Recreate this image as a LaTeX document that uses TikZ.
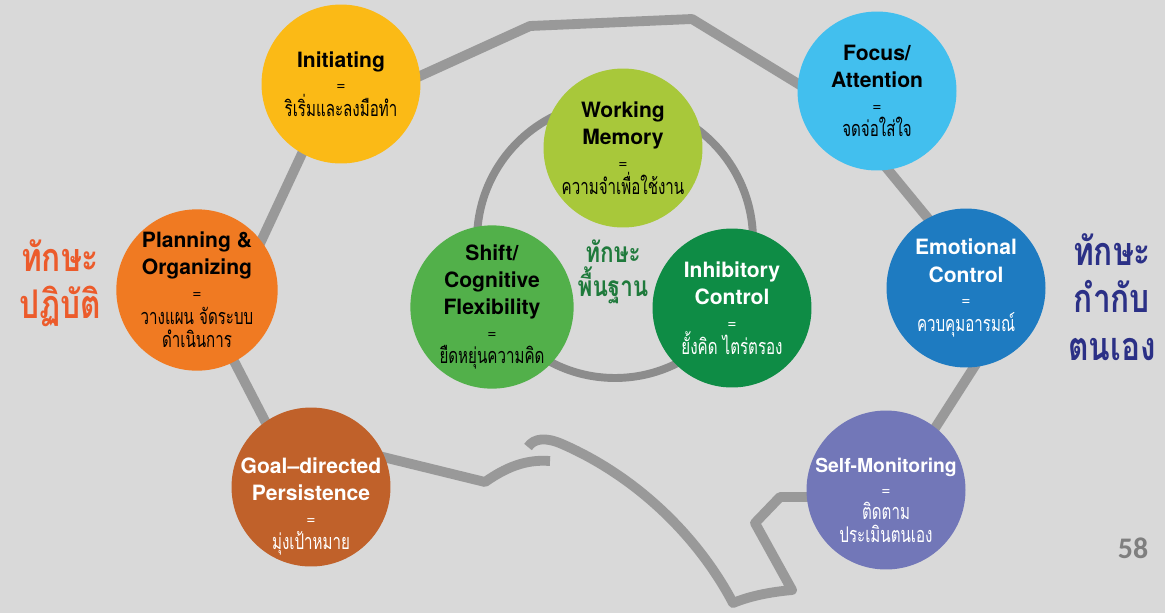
\documentclass[tikz,border=0pt]{standalone}
\usepackage{fontspec}
\setmainfont{TeX Gyre Heros}
\newfontfamily\thaifont[Script=Thai,FakeStretch=0.8]{Loma}
\newfontfamily\thaicond[Script=Thai,FakeStretch=0.7]{Loma}
\newfontfamily\pagefont{Carlito}
\usepackage{tikz}
\usetikzlibrary{positioning}

\definecolor{paper}{HTML}{D9D9D9}
\definecolor{linegray}{HTML}{999999}
\definecolor{ringgray}{HTML}{8C8C8C}
\definecolor{cInit}{HTML}{FBBA16}
\definecolor{cPlan}{HTML}{F07A22}
\definecolor{cGoal}{HTML}{C0612A}
\definecolor{cWork}{HTML}{A8C83A}
\definecolor{cShift}{HTML}{52B04A}
\definecolor{cInhib}{HTML}{0E8C45}
\definecolor{cFocus}{HTML}{42BFEE}
\definecolor{cEmo}{HTML}{1E7BC1}
\definecolor{cSelf}{HTML}{7277B8}
\definecolor{tOrange}{HTML}{EC5B2B}
\definecolor{tGreen}{HTML}{1F7A3C}
\definecolor{tNavy}{HTML}{2B3086}
\definecolor{tPage}{HTML}{7F7F7F}

\newcommand{\eqsign}{\\[-2pt]{\mdseries\fontsize{9}{11}\selectfont =}\\[-1pt]}
\newcommand{\thline}[1]{{\thaicond\mdseries\fontsize{12.3}{15}\selectfont #1}}

\begin{document}
\begin{tikzpicture}[
        x=0.02cm,
        y=-0.02cm,
        outline/.style={
          draw=linegray,
          line width=5.6pt,
          line join=round
          },
        ring/.style={
          draw=ringgray,
          line width=4.5pt
          },
        skilltext/.style={
          align=center,
          inner sep=0pt,
          font=\fontsize{12}{15.5}\selectfont\bfseries
          },
        skill/.style={
          skilltext,
          circle,
          fill=#1,
          minimum size=3.18cm
          },
        group/.style={
          align=center,
          text=#1,
          font=\thaifont\fontsize{22.5}{27}\selectfont\bfseries
          }
        ]
        \fill[paper] (0,0) rectangle (1165,613);
        \useasboundingbox (0,0) rectangle (1165,613);
        % outline round the skills
        \draw[outline] (528,447) .. controls (534,438) and (546,437) .. (562,444)
          .. controls (640,478) and (700,540) .. (733,603)
          .. controls (750,596) and (770,592) .. (792,590)
          -- (755,523) -- (780,497) -- (840,497) -- (921,450) -- (985,350)
          -- (940,233) -- (880,160) -- (830,103) -- (800,85) -- (692,19)
          -- (530,26) -- (420,76) -- (380,94) -- (313,130) -- (250,265)
          -- (220,334) -- (280,450) -- (340,446) -- (383,457) -- (485,482)
          .. controls (505,468) and (525,459) .. (550,461);
        \draw[ring] (615,240) circle[radius=2.76cm];
        % skills
        \node[skill=cInit] (init) at (341,84)
          {Initiating\eqsign\thline{ริเริ่มและลงมือทำ}};
        \node[skill=cPlan] (plan) at (197,290)
          {Planning \&\\Organizing\eqsign\thline{วางแผน จัดระบบ}\\[-2pt]\thline{ดำเนินการ}};
        \node[skill=cGoal] (goal) at (311,487) {};
        \node[skilltext, text=white, yshift=-11pt] (goal-text) at (goal)
          {Goal--directed\\Persistence\eqsign\thline{มุ่งเป้าหมาย}};
        \node[skill=cWork] (work) at (623,148)
          {Working\\Memory\eqsign\thline{ความจำเพื่อใช้งาน}};
        \node[skill=cShift] (shift) at (492,307)
          {Shift/\\Cognitive\\Flexibility\eqsign\thline{ยืดหยุ่นความคิด}};
        \node[skill=cInhib, text=white] (inhib) at (732,308)
          {Inhibitory\\Control\eqsign\thline{ยั้งคิด ไตร่ตรอง}};
        \node[skill=cFocus] (focus) at (877,91)
          {Focus/\\Attention\eqsign\thline{จดจ่อใส่ใจ}};
        \node[skill=cEmo, text=white] (emo) at (966,288)
          {Emotional\\Control\eqsign\thline{ควบคุมอารมณ์}};
        \node[skill=cSelf] (self) at (886,490) {};
        \node[skilltext, text=white, font=\fontsize{11}{15}\selectfont\bfseries, yshift=-6pt] (self-text) at (self)
          {Self-Monitoring\eqsign\thline{ติดตาม}\\[-2pt]\thline{ประเมินตนเอง}};
        % groups
        \node[group=tOrange] (practice) at (60,283) {ทักษะ\\ปฏิบัติ};
        \node[group=tGreen, font=\thaifont\fontsize{16}{19}\selectfont\bfseries] (basic) at (613,272) {ทักษะ\\พื้นฐาน};
        \node[group=tNavy] (selfreg) at (1112,297) {ทักษะ\\กำกับ\\ตนเอง};
        \node[text=tPage, font=\pagefont\fontsize{17}{20}\selectfont\bfseries] (page) at (1133,548) {58};
    \end{tikzpicture}
\end{document}
